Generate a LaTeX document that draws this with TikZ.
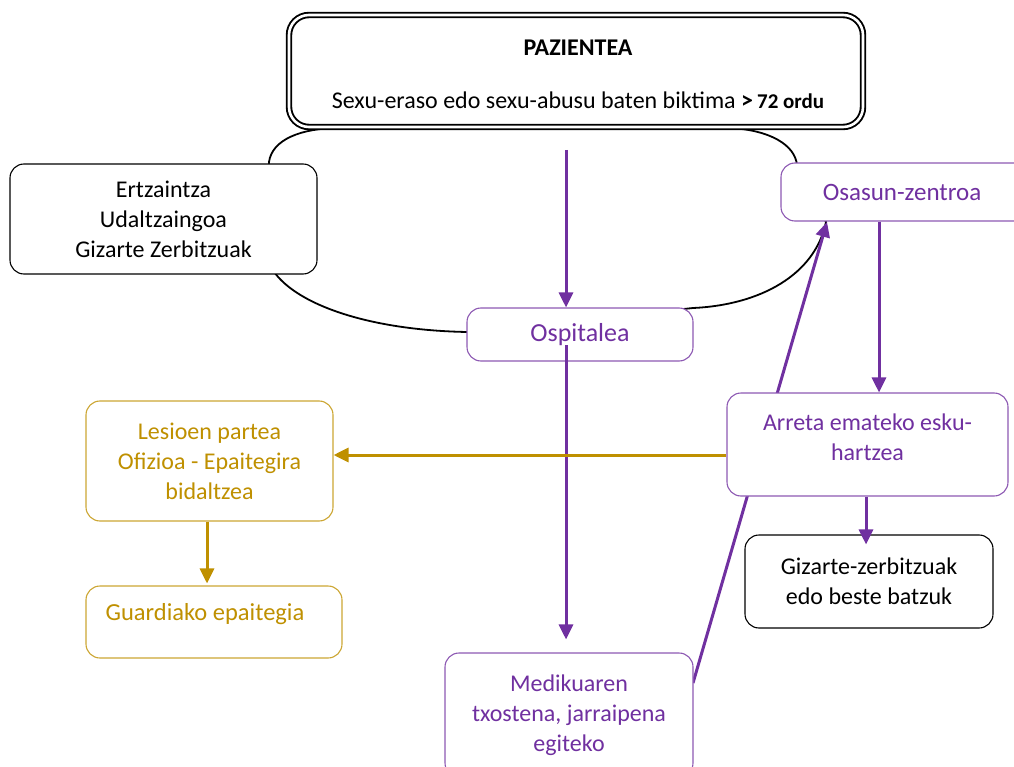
\documentclass[tikz,border=0pt]{standalone}
\usepackage{fontspec}
\setmainfont{Carlito}
\usetikzlibrary{arrows.meta}
\definecolor{purp}{HTML}{7030A0}
\definecolor{gold}{HTML}{BF9000}
\tikzset{
  base/.style={rounded corners=14pt, fill=white, align=center, inner sep=0pt, font=\fontsize{24}{30}\selectfont},
  blk/.style={base, draw=black, line width=1.1pt},
  pur/.style={base, draw=purp!80, line width=1.1pt, text=purp},
  gld/.style={base, draw=gold!80, line width=1.1pt, text=gold},
  parr/.style={draw=purp, line width=3pt, -{Triangle[length=15pt,width=14pt]}},
  garr/.style={draw=gold, line width=3pt, -{Triangle[length=15pt,width=14pt]}},
}
\begin{document}
\begin{tikzpicture}[x=1pt,y=-1pt]
\useasboundingbox (0,0) rectangle (1014,767);
\clip (0,0) rectangle (1014,767);
% big loop behind
\draw[line width=1.8pt] (269,263) -- (269,162)
  .. controls (272,140) and (300,128) .. (340,128) -- (730,128)
  .. controls (770,130) and (795,145) .. (797,165) -- (826,222)
  .. controls (815,275) and (760,305) .. (693,308) -- (467,332)
  .. controls (360,330) and (285,300) .. (269,263);
% arrow behind Arreta box
\coordinate (a5s) at (693,683);
\coordinate (a5e) at (827,222);
\draw[parr] (a5s) -- (a5e);
% nodes
\node[draw=black, line width=1.9pt, double=white, double distance=2.6pt, rounded corners=20pt, fill=white,
      minimum width=574pt, minimum height=112pt, inner sep=0pt] (pat) at (576,71) {};
\node[align=center, inner sep=0pt] (pattitle) at (578,48) {\bfseries\fontsize{24}{28}\selectfont PAZIENTEA};
\node[align=center, inner sep=0pt] (pattext) at (578,100) {\fontsize{24}{28}\selectfont Sexu-eraso edo sexu-abusu baten biktima \textbf{>}\,{\bfseries\fontsize{21}{24}\selectfont 72 ordu}};
\node[blk, minimum width=307pt, minimum height=110pt] (pol) at (163.5,219) {Ertzaintza\\Udaltzaingoa\\Gizarte Zerbitzuak};
\node[pur, minimum width=249pt, minimum height=58pt, font=\fontsize{25}{30}\selectfont] (osa) at (905.5,192) {\hspace*{-7pt}Osasun-zentroa};
\node[pur, minimum width=226pt, minimum height=53pt, font=\fontsize{26}{30}\selectfont] (osp) at (580,334.5) {Ospitalea};
\node[pur, minimum width=281pt, minimum height=103pt, text depth=14pt] (arr) at (867.5,444.5) {Arreta emateko esku-\\hartzea};
\node[blk, minimum width=248pt, minimum height=93pt] (giz) at (869,581.5) {Gizarte-zerbitzuak\\edo beste batzuk};
\node[gld, minimum width=247pt, minimum height=120pt] (les) at (209.5,461) {Lesioen partea\\Ofizioa - Epaitegira\\bidaltzea};
\node[gld, minimum width=256pt, minimum height=72pt, text depth=21pt, font=\fontsize{24.5}{30}\selectfont] (gua) at (214,622) {\hspace*{-18pt}Guardiako epaitegia};
\node[pur, minimum width=248pt, minimum height=124pt] (med) at (569,715) {Medikuaren\\txostena, jarraipena\\egiteko};
% arrows
\coordinate (a1s) at (566,150);
\draw[parr] (a1s) -- (a1s |- osp.north);
\coordinate (a2s) at (566,345);
\draw[parr, shorten >=13pt] (a2s) -- (a2s |- med.north);
\coordinate (a3x) at (879,0);
\draw[parr] (osa.south -| a3x) -- (arr.north -| a3x);
\coordinate (a4x) at (866,0);
\draw[parr, shorten >=-10pt] (arr.south -| a4x) -- (giz.north -| a4x);
\coordinate (g1y) at (0,455);
\draw[garr] (arr.west |- g1y) -- (les.east |- g1y);
\coordinate (g2x) at (207,0);
\draw[garr, shorten >=2pt] (les.south -| g2x) -- (gua.north -| g2x);
\end{tikzpicture}
\end{document}
